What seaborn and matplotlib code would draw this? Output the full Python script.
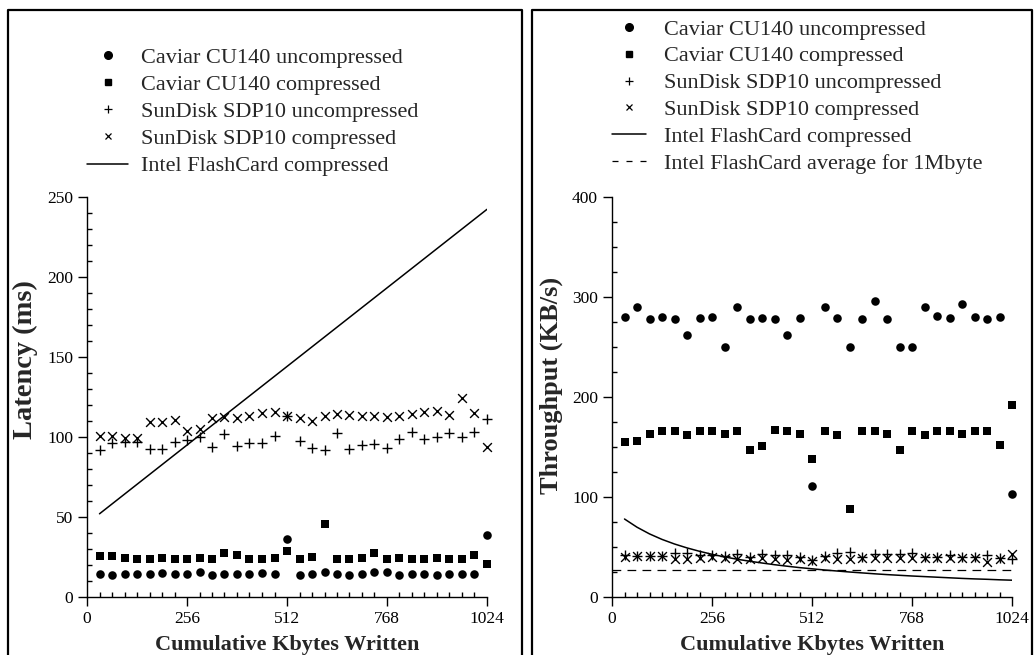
import numpy as np
import pandas as pd
import matplotlib
matplotlib.use("Agg")
import matplotlib.pyplot as plt
from matplotlib.lines import Line2D
from matplotlib.ticker import MultipleLocator
import seaborn as sns

# ---------------- data ----------------
kbytes = [32, 64, 96, 128, 160, 192, 224, 256, 288, 320, 352, 384, 416, 448, 480, 512,
          544, 576, 608, 640, 672, 704, 736, 768, 800, 832, 864, 896, 928, 960, 992, 1024]

# Latency (ms)
lat_caviar_unc = [14.2, 13.8, 14.2, 14.2, 14.2, 15.2, 14.2, 14.2, 15.8, 13.8, 14.2, 14.2, 14.2, 15.2, 14.2, 36.0,
                  13.8, 14.2, 15.8, 14.2, 13.5, 14.2, 15.8, 15.8, 13.8, 14.2, 14.2, 13.5, 14.2, 14.2, 14.2, 38.8]
lat_caviar_cmp = [25.8, 25.8, 24.6, 23.9, 23.9, 24.6, 23.9, 23.9, 24.6, 23.9, 27.3, 26.5, 23.9, 23.9, 24.6, 29.0,
                  23.9, 24.8, 45.6, 23.9, 23.9, 24.6, 27.3, 23.9, 24.6, 23.9, 23.9, 24.6, 23.9, 23.9, 26.5, 20.8]
lat_sundisk_unc = [91.9, 96.0, 97.0, 97.0, 92.3, 92.3, 96.7, 98.1, 100.2, 94.0, 101.7, 94.6, 96.5, 96.5, 100.6, 113.1,
                   97.3, 92.9, 91.9, 102.3, 92.3, 95.0, 95.8, 93.3, 98.5, 103.0, 98.5, 99.8, 102.3, 100.2, 103.3, 111.3]
lat_sundisk_cmp = [100.8, 100.6, 99.6, 99.6, 109.6, 109.2, 110.6, 103.9, 105.0, 111.7, 112.3, 111.7, 113.3, 114.8, 115.8, 113.1,
                   111.7, 110.2, 113.3, 114.2, 113.8, 113.1, 113.1, 112.7, 113.3, 114.2, 115.8, 116.5, 113.8, 124.2, 114.8, 94.0]
lat_intel_x = [32, 1024]
lat_intel = [52.0, 242.3]

# Throughput (KB/s)
thr_caviar_unc = [280, 290, 278, 280, 278, 262, 279, 280, 250, 290, 278, 279, 278, 262, 279, 111,
                  290, 279, 250, 278, 296, 278, 250, 250, 290, 281, 279, 293, 280, 278, 280, 103]
thr_caviar_cmp = [155, 156, 163, 166, 166, 162, 166, 166, 163, 166, 147, 151, 167, 166, 163, 138,
                  166, 162, 88, 166, 166, 163, 147, 166, 162, 166, 166, 163, 166, 166, 152, 192]
thr_sundisk_unc = [42.0, 41.0, 41.0, 41.0, 44.0, 44.0, 42.5, 42.0, 41.0, 43.0, 40.0, 43.0, 42.5, 42.5, 40.5, 37.0,
                   41.0, 44.0, 45.0, 40.5, 43.5, 43.0, 43.5, 44.0, 40.5, 40.0, 42.0, 40.0, 40.0, 42.5, 39.5, 38.0]
thr_sundisk_cmp = [40.0, 41.0, 41.0, 41.0, 38.0, 38.0, 39.0, 40.0, 39.5, 38.0, 38.5, 39.0, 38.0, 37.0, 38.0, 36.5,
                   39.0, 38.0, 38.0, 39.0, 39.0, 39.0, 39.0, 39.0, 39.0, 39.0, 39.0, 39.0, 39.0, 35.5, 38.5, 43.0]
thr_intel = [78.0, 69.8, 63.1, 57.6, 53.0, 49.1, 45.7, 42.7, 40.1, 37.8, 35.8, 34.0, 32.3, 30.8, 29.4, 28.2,
             27.0, 26.0, 25.0, 24.1, 23.2, 22.4, 21.7, 21.0, 20.4, 19.8, 19.2, 18.6, 18.1, 17.7, 17.2, 16.8]
thr_avg_x = [0, 1024]
thr_avg = [27.5, 27.5]

xticks = [0, 256, 512, 768, 1024]

legend_labels = ["Caviar CU140 uncompressed", "Caviar CU140 compressed",
                 "SunDisk SDP10 uncompressed", "SunDisk SDP10 compressed",
                 "Intel FlashCard compressed", "Intel FlashCard average for 1Mbyte"]

# ---------------- style ----------------
sns.set_style("ticks")
plt.rcParams['font.family'] = ['Liberation Serif', 'DejaVu Serif']

W, H = 1034, 655
fig = plt.figure(figsize=(W / 100, H / 100), dpi=100)

def fx(px):
    return px / W

def fy(py):
    return 1 - py / H

ax1 = fig.add_axes([fx(87), fy(597), 400 / W, 400 / H])
ax2 = fig.add_axes([fx(612), fy(597), 400 / W, 400 / H])

K = 'black'

def scatter(ax, y, marker, size, filled=True):
    df = pd.DataFrame({"x": kbytes, "y": y})
    if filled:
        sns.scatterplot(data=df, x="x", y="y", ax=ax, marker=marker, s=size, color=K,
                        edgecolor=K, linewidth=0, clip_on=False, zorder=3)
    else:
        sns.scatterplot(data=df, x="x", y="y", ax=ax, marker=marker, s=size, color=K,
                        linewidth=1.0, clip_on=False, zorder=3)

for ax, cu, cc, su, sc in [(ax1, lat_caviar_unc, lat_caviar_cmp, lat_sundisk_unc, lat_sundisk_cmp),
                           (ax2, thr_caviar_unc, thr_caviar_cmp, thr_sundisk_unc, thr_sundisk_cmp)]:
    scatter(ax, cu, 'o', 38)
    scatter(ax, cc, 's', 36)
    scatter(ax, su, '+', 52, filled=False)
    scatter(ax, sc, 'x', 40, filled=False)

sns.lineplot(x=lat_intel_x, y=lat_intel, ax=ax1, color=K, linewidth=1.1)
sns.lineplot(x=kbytes, y=thr_intel, ax=ax2, color=K, linewidth=1.1)
sns.lineplot(x=thr_avg_x, y=thr_avg, ax=ax2, color=K, linewidth=0.9, linestyle=(0, (7, 5)))

ax1.set_ylim(0, 250)
ax2.set_ylim(0, 400)
ax1.yaxis.set_major_locator(MultipleLocator(50))
ax1.yaxis.set_minor_locator(MultipleLocator(10))
ax2.yaxis.set_major_locator(MultipleLocator(100))
ax2.yaxis.set_minor_locator(MultipleLocator(25))

for ax, ylab, ylab_y, ylab_fs in [(ax1, "Latency (ms)", 0.5925, 20.5),
                                  (ax2, "Throughput (KB/s)", 0.53, 19)]:
    ax.set_xlim(0, 1024)
    ax.set_xticks(xticks)
    ax.set_xticklabels([str(t) for t in xticks])
    ax.xaxis.set_minor_locator(MultipleLocator(32))
    sns.despine(ax=ax)
    for s in ['left', 'bottom']:
        ax.spines[s].set_linewidth(1.0)
        ax.spines[s].set_color(K)
    ax.tick_params(which='major', direction='out', length=6.5, width=1.0, labelsize=12.5,
                   colors=K, pad=3.5)
    ax.tick_params(which='minor', direction='in', length=3.5, width=1.0, colors=K)
    ax.set_xlabel("Cumulative Kbytes Written", fontsize=16, fontweight='bold', labelpad=5.5)
    ax.set_ylabel(ylab, fontsize=ylab_fs, fontweight='bold')
    ax.yaxis.set_label_coords(-0.123, ylab_y)
    ax.set_facecolor('white')
    if ax.get_legend() is not None:
        ax.get_legend().remove()

def handles(n):
    h = [Line2D([], [], linestyle='none', marker='o', color=K, markersize=5.5),
         Line2D([], [], linestyle='none', marker='s', color=K, markersize=5),
         Line2D([], [], linestyle='none', marker='+', color=K, markersize=6, markeredgewidth=0.9),
         Line2D([], [], linestyle='none', marker='x', color=K, markersize=5, markeredgewidth=0.9),
         Line2D([], [], color=K, linewidth=1.1),
         Line2D([], [], color=K, linewidth=0.9, linestyle=(0, (4.8, 6.4)))]
    return h[:n]

leg1 = fig.legend(handles(5), legend_labels[:5], loc='upper left',
                  bbox_to_anchor=(fx(87), fy(47)), frameon=False, fontsize=16,
                  handlelength=1.86, handletextpad=0.55, labelspacing=0.3,
                  borderpad=0, borderaxespad=0)
leg2 = fig.legend(handles(6), legend_labels, loc='upper left',
                  bbox_to_anchor=(fx(612), fy(19)), frameon=False, fontsize=16,
                  handlelength=1.55, handletextpad=0.77, labelspacing=0.285,
                  borderpad=0, borderaxespad=0)

# panel frames (open at the bottom)
for (l, r) in [(8, 522), (532, 1032)]:
    fig.add_artist(Line2D([fx(l), fx(l), fx(r), fx(r)], [0, fy(10), fy(10), 0],
                          transform=fig.transFigure, color=K, linewidth=1.6))

fig.savefig("out.png", dpi=100, facecolor='white')
